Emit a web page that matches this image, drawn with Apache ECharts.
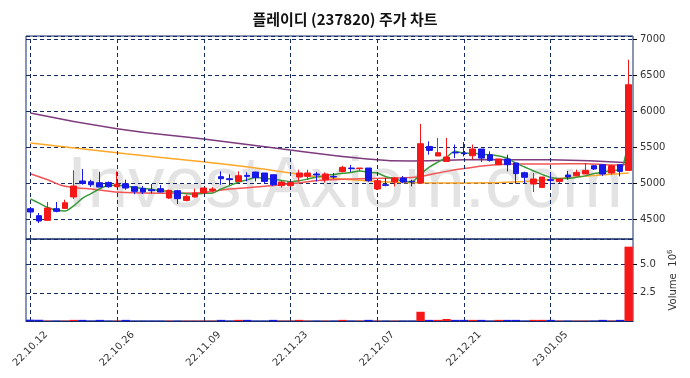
<!DOCTYPE html>
<html>
<head>
<meta charset="utf-8">
<script src="https://cdn.jsdelivr.net/npm/echarts@6/dist/echarts.min.js"></script>
<style>
  html, body { margin: 0; padding: 0; background: #fff; }
  #Chart { width: 690px; height: 378px; }
</style>
</head>
<body>
<div id="Chart"></div>
<script>
var dates = ['22.10.12', '22.10.13', '22.10.14', '22.10.17', '22.10.18', '22.10.19', '22.10.20', '22.10.21', '22.10.24', '22.10.25',
    '22.10.26', '22.10.27', '22.10.28', '22.10.31', '22.11.01', '22.11.02', '22.11.03', '22.11.04', '22.11.07', '22.11.08',
    '22.11.09', '22.11.10', '22.11.11', '22.11.14', '22.11.15', '22.11.16', '22.11.17', '22.11.18', '22.11.21', '22.11.22',
    '22.11.23', '22.11.24', '22.11.25', '22.11.28', '22.11.29', '22.11.30', '22.12.01', '22.12.02', '22.12.05', '22.12.06',
    '22.12.07', '22.12.08', '22.12.09', '22.12.12', '22.12.13', '22.12.14', '22.12.15', '22.12.16', '22.12.19', '22.12.20',
    '22.12.21', '22.12.22', '22.12.23', '22.12.26', '22.12.27', '22.12.28', '22.12.29', '23.01.02', '23.01.03', '23.01.04',
    '23.01.05', '23.01.06', '23.01.09', '23.01.10', '23.01.11', '23.01.12', '23.01.13', '23.01.16', '23.01.17', '23.01.18'];

var opens = [4643, 4546, 4481, 4643, 4647, 4806, 5028, 5018, 5004, 5008,
    4949, 4990, 4949, 4925, 4907, 4921, 4792, 4893, 4758, 4806,
    4861, 4897, 5088, 5060, 5022, 5106, 5152, 5139, 5115, 4963,
    4963, 5083, 5092, 5125, 5046, 5092, 5161, 5208, 5199, 5208,
    4917, 4976, 5014, 5069, 5022, 5000, 5508, 5375, 5300, 5425,
    5417, 5379, 5472, 5393, 5254, 5333, 5278, 5143, 4986, 4939,
    5046, 5022, 5111, 5101, 5125, 5240, 5254, 5139, 5254, 5175];

var closes = [4597, 4472, 4653, 4606, 4726, 4958, 4994, 4976, 4944, 4949,
    4986, 4930, 4884, 4875, 4893, 4875, 4898, 4782, 4814, 4861,
    4931, 4917, 5060, 5046, 5101, 5092, 5074, 5022, 4976, 5014,
    5008, 5139, 5139, 5111, 5125, 5083, 5217, 5199, 5208, 5032,
    5032, 4967, 5069, 5014, 5014, 5546, 5453, 5421, 5361, 5417,
    5407, 5472, 5347, 5315, 5333, 5254, 5130, 5079, 5056, 5083,
    5036, 5056, 5083, 5147, 5175, 5194, 5125, 5240, 5161, 6365];

var lows = [4570, 4444, 4481, 4592, 4647, 4778, 4976, 4944, 4944, 4935,
    4940, 4907, 4845, 4847, 4856, 4870, 4778, 4708, 4745, 4800,
    4861, 4870, 4976, 4972, 5022, 5022, 5022, 4990, 4958, 4935,
    4949, 5022, 5046, 5022, 5008, 5056, 5148, 5153, 5167, 5018,
    4903, 4953, 4953, 5000, 4953, 5000, 5393, 5375, 5300, 5347,
    5370, 5324, 5292, 5296, 5254, 5161, 4990, 5000, 4875, 4930,
    4953, 5000, 5046, 5101, 5125, 5180, 5101, 5115, 5092, 5175];

var highs = [4660, 4583, 4736, 4736, 4768, 5175, 5194, 5046, 5157, 5020,
    5161, 5046, 4949, 4958, 4986, 4972, 4907, 4907, 4838, 4921,
    4931, 4944, 5161, 5120, 5161, 5148, 5157, 5139, 5115, 5032,
    5008, 5185, 5185, 5153, 5148, 5139, 5240, 5250, 5208, 5208,
    5032, 5069, 5083, 5097, 5046, 5822, 5578, 5625, 5625, 5534,
    5569, 5534, 5472, 5440, 5333, 5393, 5278, 5157, 5139, 5083,
    5139, 5056, 5167, 5185, 5278, 5250, 5254, 5254, 5254, 6713];

var volumes = [120000, 110000, 30000, 30000, 30000, 100000, 100000, 30000, 100000, 30000,
    30000, 100000, 30000, 30000, 30000, 30000, 30000, 30000, 30000, 30000,
    30000, 30000, 100000, 30000, 100000, 100000, 30000, 30000, 100000, 30000,
    30000, 100000, 30000, 30000, 30000, 30000, 100000, 30000, 30000, 100000,
    30000, 30000, 30000, 30000, 30000, 820000, 100000, 100000, 180000, 100000,
    100000, 100000, 100000, 30000, 100000, 100000, 100000, 30000, 100000, 100000,
    100000, 30000, 30000, 30000, 30000, 30000, 100000, 30000, 100000, 6600000];

// moving averages
var ma5 = [4780, 4720, 4660, 4625, 4611, 4683, 4787, 4852, 4920, 4964,
    4970, 4957, 4939, 4925, 4914, 4891, 4885, 4865, 4852, 4846,
    4857, 4861, 4917, 4963, 5011, 5043, 5075, 5067, 5053, 5036,
    5019, 5032, 5055, 5082, 5104, 5119, 5135, 5147, 5166, 5148,
    5138, 5088, 5062, 5023, 5019, 5122, 5219, 5290, 5359, 5440,
    5412, 5416, 5401, 5392, 5375, 5344, 5276, 5222, 5170, 5120,
    5077, 5062, 5063, 5081, 5099, 5131, 5145, 5176, 5179, 5617];
var ma20 = [[0, 5129], [2, 5045], [4, 4955], [7, 4917], [11, 4868], [15, 4858], [19, 4860], [21, 4885],
    [23, 4915], [26, 4945], [30, 4990], [34, 5040], [38, 5060], [44, 5075], [47, 5140], [50, 5200],
    [53, 5245], [56, 5265], [60, 5265], [64, 5268], [67, 5250], [68, 5250], [69, 5275]];
var ma60 = [[0, 5555], [11, 5405], [23, 5254], [30, 5139], [34, 5075], [40, 5022], [45, 5002],
    [50, 5000], [57, 5022], [63, 5085], [69, 5140]];
var ma120 = [[0, 5972], [10, 5754], [20, 5610], [30, 5460], [38, 5345], [44, 5305], [52, 5325],
    [60, 5322], [69, 5280]];

var UP = '#f61818';
var DOWN = '#1818e8';
var NAVY = '#142a66';
var FONT = 'DejaVu Sans';

var candles = dates.map(function (d, i) {
    return [opens[i], closes[i], lows[i], highs[i]];
});
var volBars = volumes.map(function (v, i) {
    return { value: v, itemStyle: { color: closes[i] >= opens[i] ? UP : DOWN } };
});
var gridDates = dates.filter(function (d, i) { return i % 10 === 0; });
var vLines = {
    symbol: 'none',
    silent: true,
    label: { show: false },
    lineStyle: { color: NAVY, type: [4, 3], width: 1 },
    data: gridDates.map(function (d) { return { xAxis: d }; })
};

var Chart = echarts.init(document.getElementById('Chart'));

var ChartOption = {
    animation: false,
    title: {
        text: '플레이디 (237820) 주가 차트',
        left: 'center',
        top: 7,
        textStyle: { fontSize: 15, fontWeight: 'bold', color: '#111', fontFamily: 'Noto Sans CJK KR' }
    },
    graphic: [{
        type: 'text',
        left: 'center',
        top: 150,
        z: -10,
        silent: true,
        style: { text: 'InvestAxiom.com', fontSize: 73, fill: '#e3e3e3', fontFamily: 'Liberation Sans' }
    }],
    grid: [
        { left: 26, right: 57, top: 36, height: 203, show: true, borderColor: NAVY, borderWidth: 1 },
        { left: 26, right: 57, top: 239, height: 82, show: true, borderColor: NAVY, borderWidth: 1 }
    ],
    xAxis: [
        {
            type: 'category', gridIndex: 0, data: dates, boundaryGap: true,
            axisLine: { show: false }, axisTick: { show: false }, axisLabel: { show: false }, splitLine: { show: false }
        },
        {
            type: 'category', gridIndex: 1, data: dates, boundaryGap: true,
            axisLine: { lineStyle: { color: NAVY } },
            axisTick: { alignWithLabel: true, interval: 9, length: 4, lineStyle: { color: '#000' } },
            axisLabel: { interval: 9, rotate: 45, align: 'center', verticalAlign: 'middle', margin: 28, fontSize: 10, color: '#333', fontFamily: FONT },
            splitLine: { show: false }
        }
    ],
    yAxis: [
        {
            type: 'value', gridIndex: 0, position: 'right', min: 4222, max: 7042, splitNumber: 5,
            axisLine: { show: false },
            axisTick: { show: true, length: 4, lineStyle: { color: '#000' } },
            axisLabel: {
                showMinLabel: false, showMaxLabel: false, margin: 7, fontSize: 10, color: '#333', fontFamily: FONT,
                formatter: function (v) { return String(v); }
            },
            splitLine: { lineStyle: { color: NAVY, type: [4, 3] } }
        },
        {
            type: 'value', gridIndex: 1, position: 'right', min: 0, max: 7280000, interval: 2500000,
            axisLine: { show: false },
            axisTick: { show: true, length: 4, lineStyle: { color: '#000' } },
            axisLabel: {
                showMinLabel: false, showMaxLabel: false, margin: 7, fontSize: 10, color: '#333', fontFamily: FONT,
                formatter: function (v) { return (v / 1000000).toFixed(1); }
            },
            splitLine: { lineStyle: { color: NAVY, type: [4, 3] } },
            name: '{a|Volume}  {b|10}{c|6}',
            nameLocation: 'middle',
            nameRotate: 90,
            nameGap: 33,
            nameTextStyle: {
                rich: {
                    a: { fontSize: 10, color: '#333', fontFamily: FONT },
                    b: { fontSize: 10, color: '#333', fontFamily: FONT },
                    c: { fontSize: 7, color: '#333', fontFamily: FONT, padding: [0, 0, 7, 0] }
                }
            }
        }
    ],
    series: [
        {
            name: 'MA120', type: 'line', data: ma120, smooth: true, symbol: 'none', z: 2,
            lineStyle: { color: '#7d3a7d', width: 1.5 }
        },
        {
            name: 'MA60', type: 'line', data: ma60, smooth: true, symbol: 'none', z: 2,
            lineStyle: { color: '#ffa726', width: 1.5 }
        },
        {
            name: 'MA20', type: 'line', data: ma20, smooth: true, symbol: 'none', z: 2,
            lineStyle: { color: '#f25555', width: 1.5 }
        },
        {
            name: 'MA5', type: 'line', data: ma5, smooth: 0.3, symbol: 'none', z: 2,
            lineStyle: { color: '#3a9a3a', width: 1.5 }
        },
        {
            name: 'Price', type: 'candlestick', data: candles, barWidth: '72%', z: 5,
            itemStyle: { color: UP, color0: DOWN, borderColor: UP, borderColor0: DOWN, borderWidth: 1 },
            markLine: vLines
        },
        {
            name: 'Volume', type: 'bar', xAxisIndex: 1, yAxisIndex: 1, data: volBars, barCategoryGap: '4%', z: 5,
            markLine: vLines
        }
    ]
};

Chart.setOption(ChartOption);
window.addEventListener("resize", function () {
    Chart.resize();
});
</script>
</body>
</html>
